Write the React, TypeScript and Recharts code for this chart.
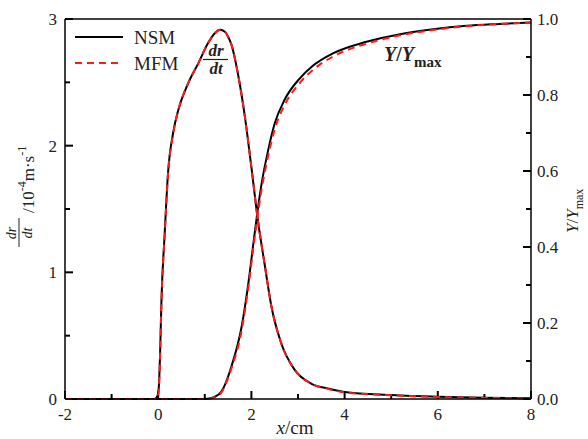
import React from 'react'
import { LineChart, Line, XAxis, YAxis, ReferenceLine } from 'recharts'

// growth rate dr/dt (10^-4 m/s) along x (cm)
const rateX = [-2, -1, -0.08, -0.02, 0.01, 0.04, 0.07, 0.14, 0.21, 0.32, 0.43, 0.64, 0.86, 1.07, 1.22, 1.33, 1.43, 1.5, 1.57, 1.71, 1.86, 2.0, 2.14, 2.29, 2.43, 2.64, 2.93, 3.29, 3.64, 4.0, 5.0, 6.0, 7.0, 8.0]
const rateNsm = [0, 0, 0, 0.02, 0.08, 0.35, 0.78, 1.31, 1.78, 2.1, 2.28, 2.49, 2.65, 2.81, 2.89, 2.915, 2.9, 2.86, 2.8, 2.57, 2.23, 1.83, 1.41, 1.05, 0.73, 0.44, 0.23, 0.12, 0.084, 0.056, 0.032, 0.018, 0.01, 0.005]
const rateMfm = [0, 0, 0, 0, 0.06, 0.33, 0.77, 1.3, 1.77, 2.09, 2.28, 2.49, 2.65, 2.81, 2.89, 2.915, 2.9, 2.86, 2.8, 2.57, 2.23, 1.83, 1.41, 1.05, 0.73, 0.44, 0.23, 0.12, 0.08, 0.052, 0.03, 0.016, 0.009, 0.004]

// normalised yield Y/Ymax
const fracX = [-2, 0, 1.0, 1.2, 1.36, 1.57, 1.79, 1.93, 2.07, 2.21, 2.36, 2.5, 2.71, 3.04, 3.3, 3.76, 4.47, 5.19, 5.9, 6.62, 7.33, 8.0]
const fracNsm = [0, 0, 0, 0.005, 0.02, 0.085, 0.19, 0.3, 0.436, 0.56, 0.655, 0.725, 0.787, 0.844, 0.875, 0.91, 0.94, 0.96, 0.973, 0.982, 0.987, 0.991]
const fracMfm = [0, 0, 0, 0.004, 0.018, 0.08, 0.18, 0.29, 0.425, 0.545, 0.64, 0.71, 0.773, 0.832, 0.864, 0.902, 0.935, 0.957, 0.971, 0.981, 0.987, 0.991]

const xTicks = [-2, -1, 0, 1, 2, 3, 4, 5, 6, 7, 8]
const leftTicks = [0, 0.5, 1, 1.5, 2, 2.5, 3]
const rightTicks = [0, 0.1, 0.2, 0.3, 0.4, 0.5, 0.6, 0.7, 0.8, 0.9, 1.0]

// one table on the union of x values, gaps bridged with connectNulls
const allX = Array.from(new Set([...rateX, ...fracX])).sort((a, b) => a - b)
const data = allX.map(x => {
  const i = rateX.indexOf(x)
  const j = fracX.indexOf(x)
  return {
    x,
    rateNsm: i >= 0 ? rateNsm[i] : null,
    rateMfm: i >= 0 ? rateMfm[i] : null,
    fracNsm: j >= 0 ? fracNsm[j] : null,
    fracMfm: j >= 0 ? fracMfm[j] : null,
  }
})

const W = 588
const H = 439
const PLOT = { left: 65, right: 531, top: 19, bottom: 399 }
const X_DOM: [number, number] = [-2, 8]
const L_DOM: [number, number] = [0, 3]
const R_DOM: [number, number] = [0, 1]

const serif = '"Liberation Serif", "Times New Roman", Times, serif'
const tickFont = 17
const MAJOR = 8
const MINOR = 5

// tick length in pixels -> data units, so tick marks go through the chart's scales
const pxX = (PLOT.right - PLOT.left) / (X_DOM[1] - X_DOM[0])
const pxL = (PLOT.bottom - PLOT.top) / (L_DOM[1] - L_DOM[0])
const isMajorX = (v: number) => v % 2 === 0
const isMajorL = (v: number) => Number.isInteger(v)
const isMajorR = (v: number) => Math.round(v * 10) % 2 === 0

function BottomTick(props: any) {
  const v = props.payload.value
  if (!isMajorX(v)) return <g />
  return (
    <text x={Number(props.x)} y={PLOT.bottom + 21} textAnchor="middle" fontFamily={serif} fontSize={tickFont} fill="#222">{v}</text>
  )
}

function LeftTick(props: any) {
  const v = props.payload.value
  if (!isMajorL(v)) return <g />
  return (
    <text x={PLOT.left - 8} y={Number(props.y) + 6} textAnchor="end" fontFamily={serif} fontSize={tickFont} fill="#222">{v}</text>
  )
}

function RightTick(props: any) {
  const v = props.payload.value
  if (!isMajorR(v)) return <g />
  return (
    <text x={PLOT.right + 6} y={Number(props.y) + 6} textAnchor="start" fontFamily={serif} fontSize={tickFont} fill="#222">{v.toFixed(1)}</text>
  )
}

const axisLine = { stroke: '#000', strokeWidth: 1.5 }
const tickMark = { stroke: '#000', strokeWidth: 2 }

export default function App() {
  return (
    <div style={{ position: 'absolute', left: 0, top: 0, width: W, height: H, background: '#fff' }}>
      <LineChart width={W} height={H} data={data} margin={{ top: PLOT.top, right: 0, bottom: 0, left: 0 }}>
        <XAxis xAxisId="b" type="number" dataKey="x" domain={X_DOM} ticks={xTicks} interval={0}
          height={H - PLOT.bottom} tick={<BottomTick />} tickLine={false} axisLine={axisLine} />
        <YAxis yAxisId="left" domain={L_DOM} ticks={leftTicks} interval={0} width={PLOT.left}
          tick={<LeftTick />} tickLine={false} axisLine={axisLine} />
        <YAxis yAxisId="right" orientation="right" domain={R_DOM} ticks={rightTicks} interval={0}
          width={W - PLOT.right} tick={<RightTick />} tickLine={false} axisLine={axisLine} />
        <ReferenceLine xAxisId="b" yAxisId="left" y={L_DOM[1]} stroke="#000" strokeWidth={1.5} />

        {/* inward tick marks */}
        {xTicks.map(v => (
          <ReferenceLine key={'bx' + v} xAxisId="b" yAxisId="left" {...tickMark}
            segment={[{ x: v, y: L_DOM[0] }, { x: v, y: L_DOM[0] + (isMajorX(v) ? MAJOR : MINOR) / pxL }]} />
        ))}
        {leftTicks.map(v => (
          <ReferenceLine key={'ly' + v} xAxisId="b" yAxisId="left" {...tickMark}
            segment={[{ x: X_DOM[0], y: v }, { x: X_DOM[0] + (isMajorL(v) ? MAJOR : MINOR) / pxX, y: v }]} />
        ))}
        {rightTicks.map(v => (
          <ReferenceLine key={'ry' + v} xAxisId="b" yAxisId="right" {...tickMark}
            segment={[{ x: X_DOM[1] - (isMajorR(v) ? MAJOR : MINOR) / pxX, y: v }, { x: X_DOM[1], y: v }]} />
        ))}

        <Line xAxisId="b" yAxisId="left" dataKey="rateNsm" name="NSM" connectNulls
          type="monotone" stroke="#000" strokeWidth={2} dot={false} isAnimationActive={false} />
        <Line xAxisId="b" yAxisId="right" dataKey="fracNsm" name="NSM Y" connectNulls
          type="monotone" stroke="#000" strokeWidth={2} dot={false} isAnimationActive={false} />
        <Line xAxisId="b" yAxisId="left" dataKey="rateMfm" name="MFM" connectNulls
          type="monotone" stroke="#ff1a1a" strokeWidth={2} strokeDasharray="7 5" dot={false} isAnimationActive={false} />
        <Line xAxisId="b" yAxisId="right" dataKey="fracMfm" name="MFM Y" connectNulls
          type="monotone" stroke="#ff1a1a" strokeWidth={2} strokeDasharray="7 5" dot={false} isAnimationActive={false} />
      </LineChart>

      <svg width={W} height={H} style={{ position: 'absolute', left: 0, top: 0, pointerEvents: 'none' }}
        fontFamily={serif}>
        {/* legend */}
        <line x1={75} x2={123} y1={37} y2={37} stroke="#000" strokeWidth={2} />
        <text x={134} y={44} fontSize={19} fill="#222">NSM</text>
        <line x1={75} x2={123} y1={63} y2={63} stroke="#ff1a1a" strokeWidth={2} strokeDasharray="7 5" />
        <text x={134} y={70} fontSize={19} fill="#222">MFM</text>

        {/* curve annotations */}
        <text x={216} y={56} fontSize={17} fontWeight="bold" fontStyle="italic" textAnchor="middle" fill="#222">dr</text>
        <line x1={203} x2={228} y1={59.5} y2={59.5} stroke="#222" strokeWidth={1.2} />
        <text x={216} y={74} fontSize={17} fontWeight="bold" fontStyle="italic" textAnchor="middle" fill="#222">dt</text>
        <text x={384} y={61} fontSize={20} fontWeight="bold" fill="#222">
          <tspan fontStyle="italic">Y</tspan><tspan>/</tspan><tspan fontStyle="italic">Y</tspan>
          <tspan fontSize={15} dy={6}>max</tspan>
        </text>

        {/* x axis title */}
        <text x={295} y={434} fontSize={19} textAnchor="middle" fill="#222">
          <tspan fontStyle="italic">x</tspan><tspan>/cm</tspan>
        </text>

        {/* left axis title */}
        <g transform="translate(0,253) rotate(-90)" fill="#222">
          <text x={20} y={16} fontSize={14} fontStyle="italic" textAnchor="middle">dr</text>
          <line x1={6} x2={35} y1={19} y2={19} stroke="#222" strokeWidth={1} />
          <text x={20} y={32} fontSize={14} fontStyle="italic" textAnchor="middle">dt</text>
          <text x={40} y={34} fontSize={17}>
            <tspan>/10</tspan><tspan fontSize={12} dy={-8}>-4</tspan>
            <tspan dy={8}>m·s</tspan><tspan fontSize={12} dy={-8}>-1</tspan>
          </text>
        </g>

        {/* right axis title */}
        <g transform="translate(578,233) rotate(-90)" fill="#222">
          <text x={0} y={0} fontSize={17}>
            <tspan fontStyle="italic">Y</tspan><tspan>/</tspan><tspan fontStyle="italic">Y</tspan>
            <tspan fontSize={12} dy={5}>max</tspan>
          </text>
        </g>
      </svg>
    </div>
  )
}
